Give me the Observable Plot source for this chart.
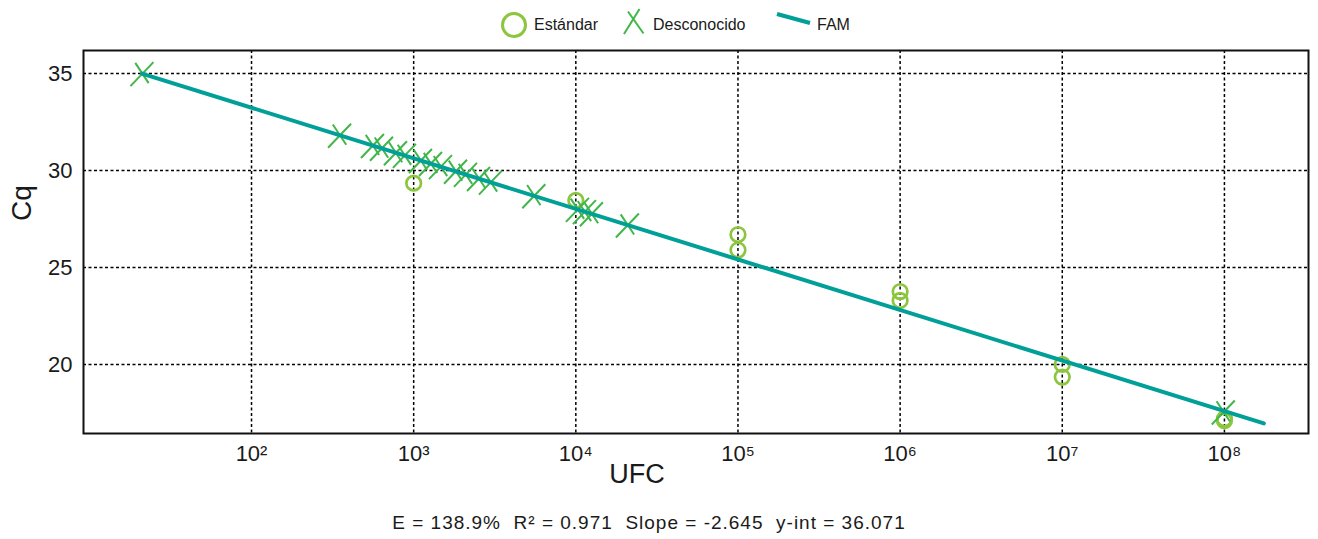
<!DOCTYPE html>
<html>
<head>
<meta charset="utf-8">
<script src="https://cdn.jsdelivr.net/npm/d3@7"></script>
<script src="https://cdn.jsdelivr.net/npm/@observablehq/plot@0.6"></script>
<style>
  html, body { margin: 0; padding: 0; background: #fff; }
  body { width: 1318px; height: 539px; overflow: hidden; font-family: "Liberation Sans", Arial, sans-serif; color: #1a1a1a; }
  #legend { position: relative; height: 40px; width: 1318px; font-size: 16px; }
  #legend .t { position: absolute; top: 17px; line-height: 16px; white-space: nowrap; }
  #legend svg { position: absolute; overflow: visible; }
  #footer { width: 1298px; text-align: center; font-size: 19px; letter-spacing: 1px; line-height: 26px; height: 29px; white-space: pre; }
  #chart svg { display: block; }
</style>
</head>
<body>
<div id="legend">
  <svg style="left:500px;top:11px" width="28" height="28"><circle cx="14" cy="14" r="11.5" fill="none" stroke="#8cc63f" stroke-width="3"/></svg>
  <span class="t" style="left:534px">Estándar</span>
  <svg style="left:620px;top:6px" width="28" height="32"><line x1="4" y1="28" x2="19.5" y2="3" stroke="#41b649" stroke-width="2"/><line x1="8" y1="5.5" x2="23.5" y2="27.5" stroke="#41b649" stroke-width="2"/></svg>
  <span class="t" style="left:653px">Desconocido</span>
  <svg style="left:775px;top:10px" width="40" height="20"><line x1="2" y1="4" x2="35" y2="13" stroke="#009f98" stroke-width="4"/></svg>
  <span class="t" style="left:817px">FAM</span>
</div>
<div id="chart"></div>
<div id="footer">E = 138.9%  R² = 0.971  Slope = -2.645  y-int = 36.071</div>
<script>
// Standards (circles)
const stdUFC = [1e3, 1e4, 1e5, 1e5, 1e6, 1e6, 1e7, 1e7, 1e8, 1e8];
const stdCq  = [29.35, 28.46, 26.7, 25.9, 23.76, 23.3, 20.0, 19.35, 17.1, 17.2];
// Unknowns (X marks)
const unkUFC = [21.1, 349, 557, 633, 772, 877, 1101, 1270, 1463, 1811, 2086, 2512, 2974, 5508, 10230, 11300, 12480, 20800, 9.84e7];
const unkCq  = [35.0, 31.82, 31.29, 31.15, 30.92, 30.78, 30.52, 30.36, 30.20, 29.96, 29.80, 29.59, 29.40, 28.70, 28.00, 27.88, 27.77, 27.19, 17.55];
// Fit line (FAM) end points
const fitUFC = [21.1, 1.75e8];
const fitCq  = [35.0, 16.96];
// Ticks
const xTicks = [1e2, 1e3, 1e4, 1e5, 1e6, 1e7, 1e8];
const yTicks = [20, 25, 30, 35];

const std = stdUFC.map((x, i) => ({x, y: stdCq[i]}));
const unk = unkUFC.map((x, i) => ({x, y: unkCq[i]}));
const fit = fitUFC.map((x, i) => ({x, y: fitCq[i]}));

const sup = "⁰¹²³⁴⁵⁶⁷⁸⁹";
const fmtPow = d => "10" + String(Math.round(Math.log10(d))).split("").map(c => sup[+c]).join("");

const xSym = {
  draw(ctx) {
    ctx.moveTo(-11.5, 12.5); ctx.lineTo(11.5, -11.5);
    ctx.moveTo(-6.7, -10.7); ctx.lineTo(6.7, 9.5);
  }
};

const chart = Plot.plot({
  width: 1318,
  height: 470,
  marginLeft: 83,
  marginRight: 10,
  marginTop: 10,
  marginBottom: 77,
  style: {fontFamily: '"Liberation Sans", Arial, sans-serif', color: "#1a1a1a", background: "#fff"},
  x: {type: "log", domain: [9.2, 3.3e8]},
  y: {domain: [16.44, 36.19]},
  marks: [
    Plot.gridX(xTicks, {stroke: "#000", strokeOpacity: 1, strokeWidth: 1.5, strokeDasharray: "3,2.5"}),
    Plot.gridY(yTicks, {stroke: "#000", strokeOpacity: 1, strokeWidth: 1.5, strokeDasharray: "3,2.5"}),
    Plot.axisX(xTicks, {tickSize: 0, tickPadding: 12, fontSize: 22, tickFormat: fmtPow, label: null}),
    Plot.axisY(yTicks, {tickSize: 0, tickPadding: 11, fontSize: 22, label: null}),
    Plot.dot(std, {x: "x", y: "y", r: 7.3, stroke: "#8cc63f", strokeWidth: 2.7, fill: "none"}),
    Plot.dot(unk, {x: "x", y: "y", symbol: xSym, r: 8, stroke: "#41b649", strokeWidth: 2, fill: "none"}),
    Plot.line(fit, {x: "x", y: "y", stroke: "#009f98", strokeWidth: 4}),
    Plot.frame({stroke: "#111", strokeWidth: 2}),
    Plot.text(["UFC"], {frameAnchor: "bottom", text: d => d, dx: -59, dy: 49, fontSize: 27, fill: "#1a1a1a"}),
    Plot.text(["Cq"], {frameAnchor: "left", text: d => d, dx: -61, dy: -21, rotate: -90, fontSize: 28, fill: "#1a1a1a"})
  ]
});
document.getElementById("chart").appendChild(chart);
</script>
</body>
</html>
